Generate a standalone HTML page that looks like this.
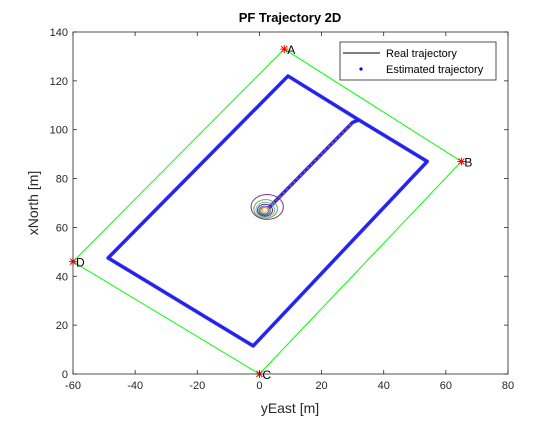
<!DOCTYPE html>
<html><head><meta charset="utf-8"><style>
html,body{margin:0;padding:0;background:#fff}
svg text{font-family:"Liberation Sans",Arial,sans-serif}
</style></head><body>
<svg width="560" height="420" viewBox="0 0 560 420">
<rect width="560" height="420" fill="#fff"/>
<g id="plot"></g>
<text x="290" y="22" text-anchor="middle" font-size="13" font-weight="bold" fill="#000">PF Trajectory 2D</text>
<text x="290" y="413" text-anchor="middle" font-size="14" fill="#262626">yEast [m]</text>
<text transform="translate(38,203) rotate(-90)" text-anchor="middle" font-size="14" fill="#262626">xNorth [m]</text>
<g>
<rect x="340" y="42" width="156" height="38" fill="#fff" stroke="#262626" stroke-width="0.8"/>
<line x1="343" y1="53" x2="380" y2="53" stroke="#000" stroke-width="1"/>
<text x="386" y="57" font-size="11" fill="#000">Real trajectory</text>
<circle cx="361" cy="69" r="1.6" fill="#0000ff"/>
<text x="386" y="73" font-size="11" fill="#000">Estimated trajectory</text>
</g>
</svg>
<script>
const xTicks=[-60,-40,-20,0,20,40,60,80];
const yTicks=[0,20,40,60,80,100,120,140];
const anchorNames=['A','B','C','D'];
const anchorX=[8,65,0,-60];
const anchorY=[133,87,0,46];
const trajX=[3,30,32,54,-2,-48.7,9.2,32];
const trajY=[68,103,104,87,11.5,47.5,122,104];
const ellRx=[5.2,3.8,3.0,2.4,1.8,1.3,0.9];
const ellRy=[5.1,3.8,3.0,2.4,1.8,1.3,0.9];
const ellCx=[2.5,2.0,1.9,1.8,1.7,1.7,1.8];
const ellCy=[68.4,67.6,67.3,67.1,66.9,66.9,67.2];
const ellColors=['#7e2f8e','#77ac30','#4dbeee','#a2142f','#0072bd','#d95319','#edb120'];
const X0=73,X1=508,Y0=374,Y1=32;
const sx=v=>X0+(v+60)/140*(X1-X0);
const sy=v=>Y0-(v/140)*(Y0-Y1);
const NS='http://www.w3.org/2000/svg';
const g=document.getElementById('plot');
function mk(t,a,p){const e=document.createElementNS(NS,t);for(const k in a)e.setAttribute(k,a[k]);(p||g).appendChild(e);return e;}
mk('rect',{x:X0,y:Y1,width:X1-X0,height:Y0-Y1,fill:'#fff'});
const ord=[0,1,2,3,0];
const bl=mk('polyline',{points:ord.map(i=>sx(anchorX[i])+','+sy(anchorY[i])).join(' '),fill:'none',stroke:'#00ff00','stroke-width':1});


const pts=trajX.map((x,i)=>sx(x)+','+sy(trajY[i])).join(' ');
const est=mk('polyline',{points:pts,fill:'none',stroke:'#2a2aff','stroke-width':3.6,'stroke-linejoin':'round'});


const real=mk('polyline',{points:pts,fill:'none',stroke:'#000','stroke-width':0.5,'stroke-opacity':0.5});


const cl=mk('line',{x1:sx(trajX[0]),y1:sy(trajY[0]),x2:sx(trajX[1]),y2:sy(trajY[1]),stroke:'#d95319','stroke-width':1.4,'stroke-dasharray':'2 3'});


ellRx.forEach((r,i)=>{const e=mk('ellipse',{cx:sx(ellCx[i]),cy:sy(ellCy[i]),rx:r*(X1-X0)/140,ry:ellRy[i]*(Y0-Y1)/140,fill:'none',stroke:ellColors[i],'stroke-width':1});

});
anchorNames.forEach((n,i)=>{const x=sx(anchorX[i]),y=sy(anchorY[i]);
const s=mk('path',{d:`M${x-4},${y}H${x+4}M${x},${y-4}V${y+4}M${x-3},${y-3}L${x+3},${y+3}M${x-3},${y+3}L${x+3},${y-3}`,stroke:'#ff0000','stroke-width':1,fill:'none'});


const t=mk('text',{x:x+3,y:y+5,'font-size':12,fill:'#000'});t.textContent=n;

});
mk('rect',{x:X0,y:Y1,width:X1-X0,height:Y0-Y1,fill:'none',stroke:'#262626','stroke-width':0.8});
xTicks.forEach(v=>{const x=sx(v);
mk('line',{x1:x,y1:Y0,x2:x,y2:Y0-4,stroke:'#262626','stroke-width':0.8});
mk('line',{x1:x,y1:Y1,x2:x,y2:Y1+4,stroke:'#262626','stroke-width':0.8});
const t=mk('text',{x:x,y:Y0+15,'text-anchor':'middle','font-size':11,fill:'#262626'});t.textContent=v;

});
yTicks.forEach(v=>{const y=sy(v);
mk('line',{x1:X0,y1:y,x2:X0+4,y2:y,stroke:'#262626','stroke-width':0.8});
mk('line',{x1:X1,y1:y,x2:X1-4,y2:y,stroke:'#262626','stroke-width':0.8});
const t=mk('text',{x:X0-5,y:y+4,'text-anchor':'end','font-size':11,fill:'#262626'});t.textContent=v;

});
</script>
</body></html>
